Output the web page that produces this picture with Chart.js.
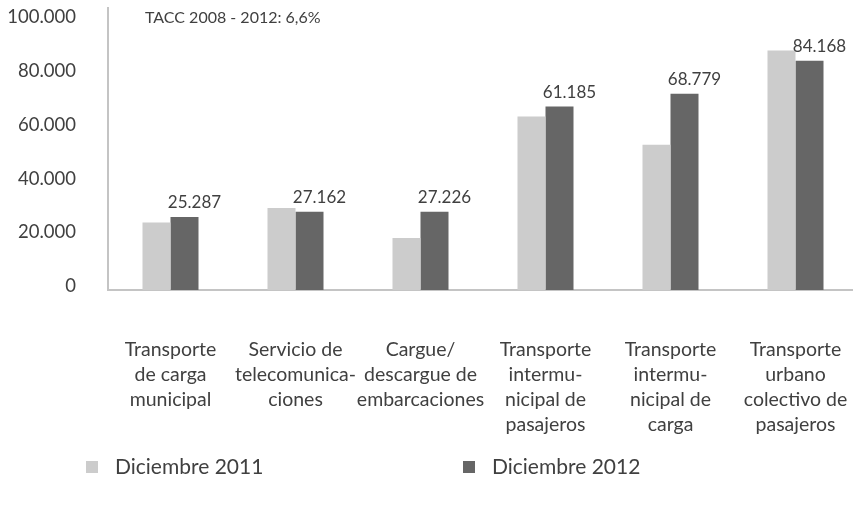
<!DOCTYPE html>
<html>
<head>
<meta charset="utf-8">
<script src="https://cdn.jsdelivr.net/npm/chart.js@4.4.0/dist/chart.umd.min.js"></script>
<style>
  html, body { margin: 0; padding: 0; background: #fff; overflow: hidden; }
  #wrap { position: absolute; left: 0; top: 0; width: 858px; height: 508px; }
</style>
</head>
<body>
<div id="wrap"><canvas id="chart"></canvas></div>
<script>
// --- datos ---
const categorias = [
    ['Transporte', 'de carga', 'municipal'],
    ['Servicio de', 'telecomunica-', 'ciones'],
    ['Cargue/', 'descargue de', 'embarcaciones'],
    ['Transporte', 'intermu-', 'nicipal de', 'pasajeros'],
    ['Transporte', 'intermu-', 'nicipal de', 'carga'],
    ['Transporte', 'urbano', 'colectivo de', 'pasajeros']
];
const dic2011 = [25100, 30500, 19400, 64600, 54100, 89200];
const dic2012 = [27200, 29100, 29100, 68300, 73100, 85400];
const etiquetas2012 = ['25.287', '27.162', '27.226', '61.185', '68.779', '84.168'];
const nombresSeries = ['Diciembre 2011', 'Diciembre 2012'];
const ticksY = [0, 20000, 40000, 60000, 80000, 100000];
const notaTacc = 'TACC 2008 - 2012: 6,6%';

const colorTexto = '#404040';
const colorEje = '#c4c4c4';

const formatoMiles = v => String(v).replace(/\B(?=(\d{3})+(?!\d))/g, '.');

// etiquetas sobre las barras de 2012, nota TACC y leyenda
const extrasPlugin = {
    id: 'extras',
    afterDatasetsDraw(chart) {
        const ctx = chart.ctx;
        ctx.save();
        ctx.fillStyle = colorTexto;
        ctx.font = '17px Lato';
        ctx.textAlign = 'center';
        ctx.textBaseline = 'bottom';
        chart.getDatasetMeta(1).data.forEach((bar, i) => {
            ctx.fillText(etiquetas2012[i], bar.x + 10, bar.y - 6);
        });

        ctx.font = '16px Lato';
        ctx.textAlign = 'left';
        ctx.textBaseline = 'middle';
        ctx.fillText(notaTacc, 145, 18);

        // leyenda
        const legendX = [86, 463];
        chart.data.datasets.forEach((ds, i) => {
            ctx.fillStyle = ds.backgroundColor;
            ctx.fillRect(legendX[i], 461, 12, 12);
            ctx.fillStyle = colorTexto;
            ctx.font = '21px Lato';
            ctx.fillText(ds.label, legendX[i] + 29, 467);
        });
        ctx.restore();
    }
};

new Chart(document.getElementById('chart'), {
    type: 'bar',
    data: {
        labels: categorias,
        datasets: [
            { label: nombresSeries[0], data: dic2011, backgroundColor: '#cccccc' },
            { label: nombresSeries[1], data: dic2012, backgroundColor: '#666666' }
        ]
    },
    options: {
        responsive: true,
        maintainAspectRatio: false,
        animation: false,
        layout: { padding: { top: 8, left: 0, right: 0, bottom: 0 } },
        datasets: { bar: { categoryPercentage: 0.448, barPercentage: 1 } },
        scales: {
            x: {
                grid: { display: false },
                border: { color: colorEje, width: 2 },
                ticks: {
                    color: colorTexto,
                    font: { family: 'Lato', size: 19.5, lineHeight: 1.28 },
                    padding: 39,
                    maxRotation: 0,
                    autoSkip: false
                },
                afterFit: scale => {
                    scale.height = 218;
                    scale.paddingLeft = 0;
                    scale.paddingRight = 0;
                }
            },
            y: {
                min: 0,
                max: 105000,
                grid: { display: false },
                border: { color: colorEje, width: 2 },
                afterBuildTicks: scale => {
                    scale.ticks = ticksY.map(v => ({ value: v }));
                },
                ticks: {
                    color: colorTexto,
                    font: { family: 'Lato', size: 18.5 },
                    padding: 24,
                    labelOffset: -4,
                    autoSkip: false,
                    callback: v => formatoMiles(v)
                },
                afterFit: scale => {
                    scale.width = 108;
                    scale.paddingTop = 0;
                    scale.paddingBottom = 0;
                }
            }
        },
        plugins: {
            legend: { display: false },
            tooltip: { enabled: false }
        }
    },
    plugins: [extrasPlugin]
});
</script>
</body>
</html>
